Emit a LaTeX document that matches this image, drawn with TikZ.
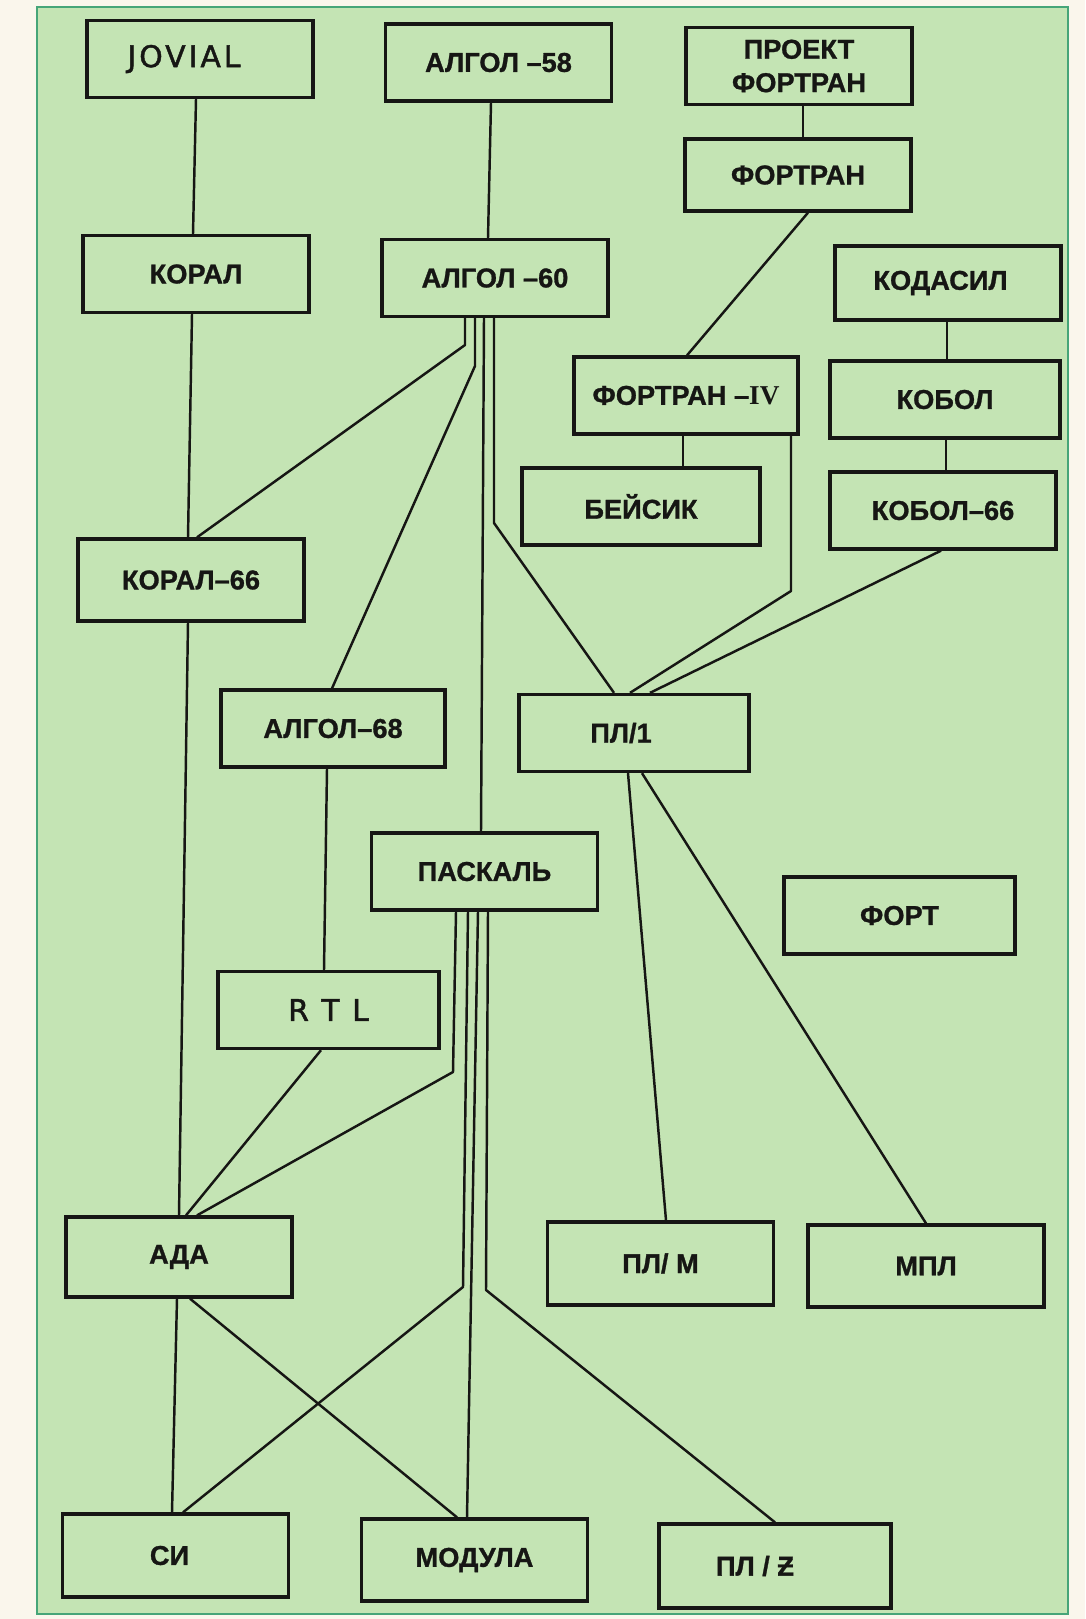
\documentclass[tikz,border=0pt]{standalone}
\usepackage{fontspec}
\usepackage{tikz}
\setmainfont{Liberation Sans}
\newfontfamily\langfont[FakeBold=1]{Liberation Sans}
\newfontfamily\numfont{Liberation Serif}
\newfontfamily\stencilfont[LetterSpace=10,FakeBold=1.5]{DejaVu Sans}
\definecolor{paper}{RGB}{250,246,236}
\definecolor{sheet}{RGB}{196,228,180}
\definecolor{sheetedge}{RGB}{70,165,120}
\definecolor{ink}{RGB}{22,22,20}

\begin{document}
\begin{tikzpicture}[x=0.02cm,y=-0.02cm,
  lang/.style={draw=ink,line width=1.9pt,minimum width=4.52cm,minimum height=1.54cm,
    inner sep=0pt,text=ink,align=center,font=\langfont\bfseries\fontsize{15.5}{19}\selectfont},
  stencil/.style={font=\stencilfont\fontsize{17}{20}\selectfont},
  link/.style={draw=ink,line width=1.4pt,line join=round}]
\fill[paper] (0,0) rectangle (1085,1619);
\filldraw[fill=sheet,draw=sheetedge,line width=1pt] (37,7) rectangle (1068,1614);

\node[lang,stencil] (jovial) at (200,59) {JOVIAL\hspace{0.64cm}};
\node[lang] (algol58) at (498.5,62.5) {АЛГОЛ –58};
\node[lang] (proekt) at (799,66) {ПРОЕКТ\\ФОРТРАН};
\node[lang,minimum height=1.44cm] (fortran) at (798,175) {ФОРТРАН};
\node[lang] (koral) at (196,274) {КОРАЛ};
\node[lang] (algol60) at (495,278) {АЛГОЛ –60};
\node[lang,minimum height=1.48cm] (kodasil) at (948,283) {КОДАСИЛ\hspace{0.3cm}};
\node[lang,minimum width=4.48cm] (fortran4) at (686,395.5) {ФОРТРАН –{\numfont\bfseries IV}};
\node[lang,minimum width=4.6cm] (kobol) at (945,399.5) {КОБОЛ};
\node[lang,minimum width=4.76cm] (basic) at (641,506.5) {БЕЙСИК};
\node[lang] (kobol66) at (943,510.5) {КОБОЛ–66};
\node[lang,minimum height=1.64cm] (koral66) at (191,580) {КОРАЛ–66};
\node[lang,minimum width=4.48cm] (algol68) at (333,728.5) {АЛГОЛ–68};
\node[lang,minimum width=4.6cm] (pl1) at (634,733) {ПЛ/1\hspace{0.52cm}};
\node[lang] (pascal) at (484.5,871.5) {ПАСКАЛЬ};
\node[lang,minimum width=4.62cm] (fort) at (899.5,915.5) {ФОРТ};
\node[lang,stencil,minimum width=4.42cm] (rtl) at (328.5,1010) {R T L};
\node[lang,minimum height=1.6cm] (ada) at (179,1257) {АДА};
\node[lang,minimum height=1.66cm] (plm) at (660.5,1263.5) {ПЛ/ М};
\node[lang,minimum width=4.72cm,minimum height=1.64cm] (mpl) at (926,1266) {МПЛ};
\node[lang,minimum height=1.66cm] (si) at (175.5,1555.5) {СИ\hspace{0.24cm}};
\node[lang,minimum height=1.64cm] (modula) at (474.5,1560) {МОДУЛА};
\node[lang,minimum width=4.64cm,minimum height=1.68cm] (plz) at (775,1566) {ПЛ / Ƶ\hspace{0.8cm}};

% left column
\draw[link] (196,0 |- jovial.south) -- (193,0 |- koral.north);
\draw[link] (192,0 |- koral.south) -- (188,0 |- koral66.north);
\draw[link] (188,0 |- koral66.south) -- (179,0 |- ada.north);
% fortran and cobol
\draw[link] (491,0 |- algol58.south) -- (488,0 |- algol60.north);
\draw[link] (803,0 |- proekt.south) -- (803,0 |- fortran.north);
\draw[link] (808,0 |- fortran.south) -- (687,0 |- fortran4.north);
\draw[link] (947,0 |- kodasil.south) -- (947,0 |- kobol.north);
\draw[link] (946,0 |- kobol.south) -- (946,0 |- kobol66.north);
\draw[link] (683,0 |- fortran4.south) -- (683,0 |- basic.north);
\draw[link] (791,0 |- fortran4.south) -- (791,591) -- (630,0 |- pl1.north);
\draw[link] (941,0 |- kobol66.south) -- (650,0 |- pl1.north);
% out of algol-60
\draw[link] (465,0 |- algol60.south) -- (465,345) -- (197,0 |- koral66.north);
\draw[link] (475,0 |- algol60.south) -- (475,366) -- (332,0 |- algol68.north);
\draw[link] (484,0 |- algol60.south) -- (481,0 |- pascal.north);
\draw[link] (494,0 |- algol60.south) -- (494,523) -- (614,0 |- pl1.north);
% out of pl/1
\draw[link] (628,0 |- pl1.south) -- (666,0 |- plm.north);
\draw[link] (642,0 |- pl1.south) -- (926,0 |- mpl.north);
% algol-68, rtl
\draw[link] (327,0 |- algol68.south) -- (324,0 |- rtl.north);
\draw[link] (321,0 |- rtl.south) -- (186,0 |- ada.north);
% out of pascal
\draw[link] (456,0 |- pascal.south) -- (453,1072) -- (197,0 |- ada.north);
\draw[link] (468,0 |- pascal.south) -- (463,1287) -- (183,0 |- si.north);
\draw[link] (478,0 |- pascal.south) -- (467,0 |- modula.north);
\draw[link] (488,0 |- pascal.south) -- (486,1290) -- (775,0 |- plz.north);
% out of ada
\draw[link] (177,0 |- ada.south) -- (172,0 |- si.north);
\draw[link] (190,0 |- ada.south) -- (457,0 |- modula.north);
\end{tikzpicture}
\end{document}
